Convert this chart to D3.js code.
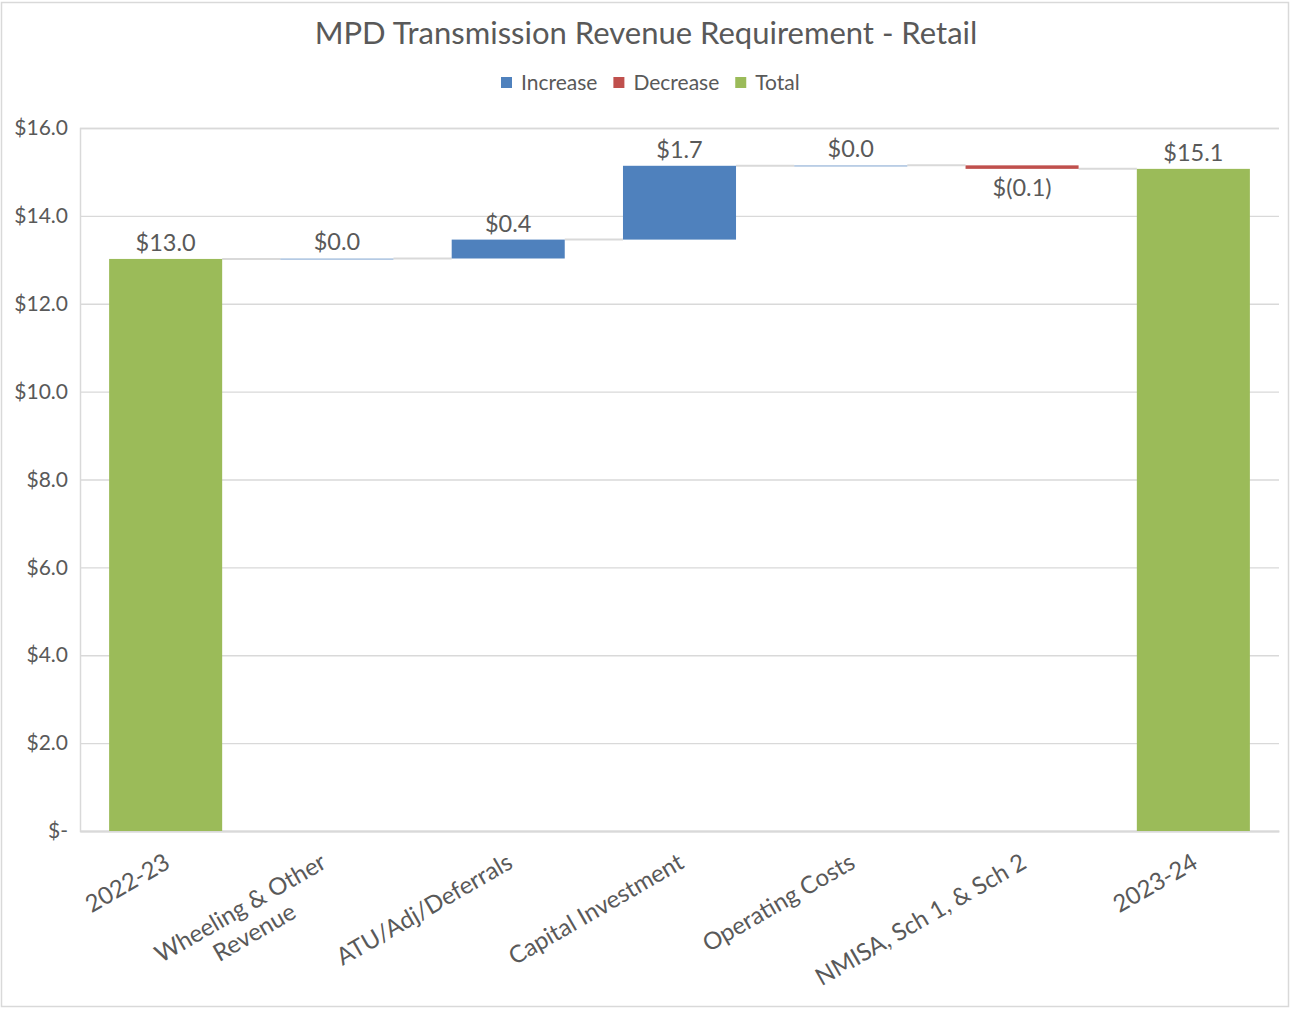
<!DOCTYPE html>
<html>
<head>
<meta charset="utf-8">
<script src="https://cdn.jsdelivr.net/npm/d3@7"></script>
<style>
  body { margin: 0; background: #fff; }
  text { font-family: Lato, "Open Sans", sans-serif; fill: #595959; }
</style>
</head>
<body>
<div id="wrapper"></div>
<script>
// chart data
const categories = ["2022-23", "Wheeling & Other Revenue", "ATU/Adj/Deferrals", "Capital Investment", "Operating Costs", "NMISA, Sch 1, & Sch 2", "2023-24"];
const categoryLines = [["2022-23"], ["Wheeling & Other", "Revenue"], ["ATU/Adj/Deferrals"], ["Capital Investment"], ["Operating Costs"], ["NMISA, Sch 1, & Sch 2"], ["2023-24"]];
const values = [13.02, 0.01, 0.43, 1.68, 0.01, -0.08, 15.07];
const kinds = ["total", "increase", "increase", "increase", "increase", "decrease", "total"];
const yTicks = [0, 2, 4, 6, 8, 10, 12, 14, 16];
const legendItems = ["Increase", "Decrease", "Total"];

const colors = { increase: "#4f81bd", decrease: "#c0504d", total: "#9bbb59" };

const dimensions = {
    width: 1291,
    height: 1009,
    margin: { top: 128, right: 12, bottom: 178, left: 80 },
};
dimensions.boundedWidth = dimensions.width - dimensions.margin.left - dimensions.margin.right;
dimensions.boundedHeight = dimensions.height - dimensions.margin.top - dimensions.margin.bottom;

// waterfall steps
let running = 0;
const steps = categories.map((c, i) => {
    let start, end;
    if (kinds[i] === "total") { start = 0; end = values[i]; running = values[i]; }
    else { start = running; end = running + values[i]; running = end; }
    return { category: c, lines: categoryLines[i], value: values[i], kind: kinds[i], start, end };
});

const svg = d3.select("#wrapper").append("svg")
    .attr("width", dimensions.width)
    .attr("height", dimensions.height);

// outer border
svg.append("rect")
    .attr("x", 1.5).attr("y", 2.5)
    .attr("width", dimensions.width - 4).attr("height", dimensions.height - 5)
    .attr("fill", "none").attr("stroke", "#d9d9d9").attr("stroke-width", 1.5);

const bounds = svg.append("g")
    .attr("transform", `translate(${dimensions.margin.left},${dimensions.margin.top})`);

const xScale = d3.scaleBand()
    .domain(categories)
    .range([0, dimensions.boundedWidth])
    .paddingInner(0.34)
    .paddingOuter(0.17);

const yScale = d3.scaleLinear()
    .domain([0, 16])
    .range([dimensions.boundedHeight, 0]);

// gridlines + y labels
const yAxis = bounds.append("g")
    .call(d3.axisLeft(yScale).tickValues(yTicks).tickSize(-dimensions.boundedWidth).tickPadding(12)
        .tickFormat(d => d === 0 ? "$-" : "$" + d.toFixed(1)));
yAxis.select(".domain").attr("stroke", "#d9d9d9").attr("stroke-width", 1.5);
yAxis.selectAll(".tick line").attr("stroke", "#d9d9d9").attr("stroke-width", 1.3);
yAxis.selectAll(".tick text").style("font-size", "21px").attr("fill", "#595959");

// bottom axis
const xAxis = bounds.append("g")
    .attr("transform", `translate(0,${dimensions.boundedHeight})`)
    .call(d3.axisBottom(xScale).tickSize(0).tickFormat(""));
xAxis.select(".domain").attr("stroke", "#d9d9d9").attr("stroke-width", 2);

// connectors between bars
bounds.selectAll(".connector")
    .data(steps.slice(0, -1))
    .join("line")
    .attr("x1", d => xScale(d.category) + xScale.bandwidth())
    .attr("x2", (d, i) => xScale(steps[i + 1].category))
    .attr("y1", d => yScale(d.end))
    .attr("y2", d => yScale(d.end))
    .attr("stroke", "#d9d9d9")
    .attr("stroke-width", 2);

// bars
bounds.selectAll(".bar")
    .data(steps)
    .join("rect")
    .attr("x", d => xScale(d.category))
    .attr("width", xScale.bandwidth())
    .attr("y", d => yScale(Math.max(d.start, d.end)))
    .attr("height", d => Math.max(1.2, Math.abs(yScale(d.start) - yScale(d.end))))
    .attr("fill", d => colors[d.kind])
    .attr("fill-opacity", d => Math.abs(d.value) < 0.05 ? 0.6 : 1);

// value labels
const fmt = v => v < 0 ? "$(" + Math.abs(v).toFixed(1) + ")" : "$" + v.toFixed(1);
bounds.selectAll(".value-label")
    .data(steps)
    .join("text")
    .attr("x", d => xScale(d.category) + xScale.bandwidth() / 2)
    .attr("y", d => d.value < 0 ? yScale(Math.min(d.start, d.end)) + 27 : yScale(Math.max(d.start, d.end)) - 8)
    .attr("text-anchor", "middle")
    .style("font-size", "23.5px")
    .text(d => fmt(d.value));

// category labels, rotated
const catLabels = bounds.selectAll(".cat-label")
    .data(steps)
    .join("text")
    .attr("text-anchor", "end")
    .attr("transform", d => {
        const shift = d.lines.length > 1 ? -15 : 0;
        return `translate(${xScale(d.category) + xScale.bandwidth() / 2 + 6 + shift},${dimensions.boundedHeight + 36}) rotate(-30)`;
    })
    .style("font-size", "24px");
catLabels.each(function(d) {
    const t = d3.select(this);
    if (d.lines.length === 1) {
        t.append("tspan").attr("x", 0).attr("y", 0).text(d.lines[0]);
    } else {
        t.attr("text-anchor", "middle");
        const spans = d.lines.map((line, i) => t.append("tspan").attr("y", i * 28).text(line));
        const w = d3.max(spans, s => s.node().getComputedTextLength());
        spans.forEach(s => s.attr("x", -w / 2));
    }
});

// title
svg.append("text")
    .attr("x", 646)
    .attr("y", 44)
    .attr("text-anchor", "middle")
    .style("font-size", "31px")
    .text("MPD Transmission Revenue Requirement - Retail");

// legend
const legend = svg.append("g").attr("transform", "translate(501,83)");
let lx = 0;
legendItems.forEach((name) => {
    const key = name.toLowerCase();
    const g = legend.append("g").attr("transform", `translate(${lx},0)`);
    g.append("rect").attr("x", 0).attr("y", -6).attr("width", 11).attr("height", 11).attr("fill", colors[key]);
    const txt = g.append("text").attr("x", 20).attr("y", 7).style("font-size", "21px").text(name);
    lx += 20 + txt.node().getComputedTextLength() + 16;
});
</script>
</body>
</html>
